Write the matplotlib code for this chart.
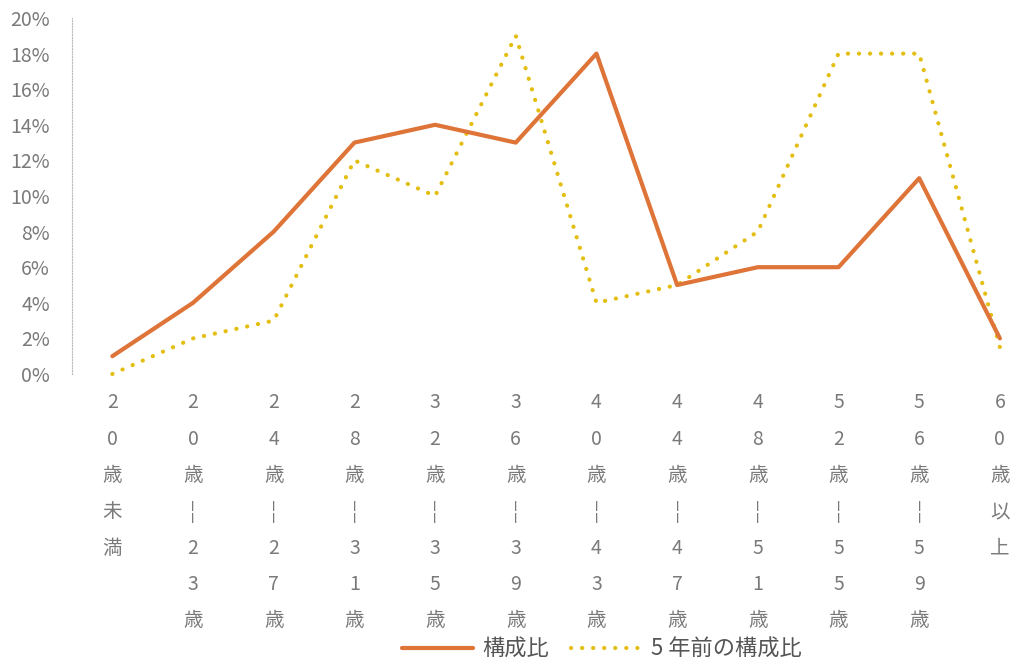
import matplotlib
matplotlib.use('Agg')
import matplotlib.pyplot as plt
import matplotlib.transforms as mtransforms
from matplotlib.ticker import FuncFormatter

plt.rcParams['font.family'] = ['Noto Sans CJK JP', 'DejaVu Sans']

# age groups, written top to bottom under the axis
labels = ['20歳未満', '20歳¦23歳', '24歳¦27歳', '28歳¦31歳', '32歳¦35歳', '36歳¦39歳',
          '40歳¦43歳', '44歳¦47歳', '48歳¦51歳', '52歳¦55歳', '56歳¦59歳', '60歳以上']
current = [1, 4, 8, 13, 14, 13, 18, 5, 6, 6, 11, 2]
five_years_ago = [0, 2, 3, 12, 10, 19, 4, 5, 8, 18, 18, 1.5]
yticks = list(range(0, 21, 2))

fig = plt.figure(figsize=(10.12, 6.64), dpi=100)
ax = fig.add_axes([72 / 1012, 290 / 664, 940 / 1012, 356 / 664])

x = range(len(labels))
ax.plot(x, current, color='#DE7438', lw=3, solid_capstyle='round',
        label='構成比', clip_on=False, zorder=3)
ax.plot(x, five_years_ago, color='#E3BE10', lw=3, linestyle=(0, (0.05, 2.6)),
        dash_capstyle='round', label='5 年前の構成比', clip_on=False, zorder=2)

ax.set_xlim(-0.5, 11.15)
ax.set_ylim(0, 20)
ax.set_yticks(yticks)
ax.yaxis.set_major_formatter(FuncFormatter(lambda v, p: f'{v:.0f}%'))
ax.tick_params(axis='y', length=0, pad=16, labelsize=14, labelcolor='#7a7a7a')
ax.set_xticks([])

for s in ['top', 'right', 'bottom']:
    ax.spines[s].set_visible(False)
ax.spines['left'].set_linestyle((0, (1, 1.5)))
ax.spines['left'].set_color('#BBBBBB')
ax.spines['left'].set_linewidth(0.8)

# vertical category labels, one character per row
trans = mtransforms.blended_transform_factory(ax.transData, fig.transFigure)
for i, lab in enumerate(labels):
    for j, ch in enumerate(lab):
        ypix = 403 + j * 36.3
        ax.text(i, 1 - ypix / 664, ch, transform=trans, ha='center', va='center',
                fontsize=14, color='#7a7a7a', clip_on=False)

fig.legend(loc='center', bbox_to_anchor=(0.595, 0.022), ncol=2, frameon=False,
           fontsize=16, handlelength=3.2, columnspacing=1.0, handletextpad=0.4,
           labelcolor='#555555')

plt.savefig('out.png', dpi=100)
plt.close()
